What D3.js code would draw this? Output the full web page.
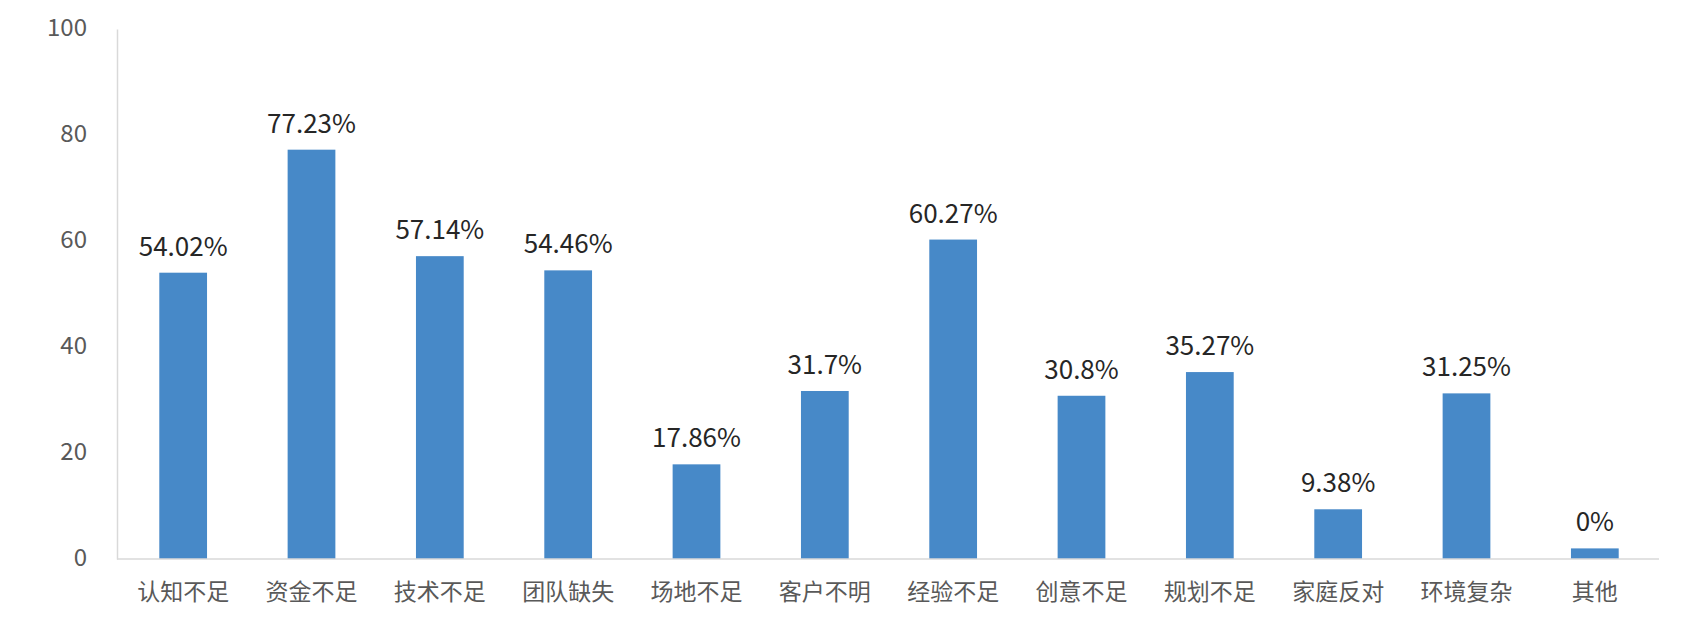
<!DOCTYPE html>
<html>
  <head>
    <meta charset="utf-8">
    <title></title>
    <script type="text/javascript" src="https://d3js.org/d3.v7.min.js"></script>
    <style media="screen">
      body { margin: 0; background: #fff; }
      text { font-family: "Noto Sans CJK SC", "Noto Sans", sans-serif; }
    </style>
  </head>
  <body>
    <div class="vis">
    </div>
    <script type="text/javascript">
      var categories = ["认知不足", "资金不足", "技术不足", "团队缺失", "场地不足", "客户不明",
                        "经验不足", "创意不足", "规划不足", "家庭反对", "环境复杂", "其他"];
      var values = [54.02, 77.23, 57.14, 54.46, 17.86, 31.7, 60.27, 30.8, 35.27, 9.38, 31.25, 0];
      var yTicks = [0, 20, 40, 60, 80, 100];

      var w = 1683;
      var h = 619;
      var plotLeft = 117, plotRight = 1659, plotTop = 29, plotBottom = 559;
      var minShown = 2; // the zero bar is still drawn as a thin stub

      var svg = d3.select('.vis')
        .append('svg')
        .attr('width', w)
        .attr('height', h);

      var xscale = d3.scaleBand()
        .domain(categories)
        .range([plotLeft + 2, plotRight])
        .paddingInner(0.628)
        .paddingOuter(0.314);

      var yscale = d3.scaleLinear()
        .domain([0, 100])
        .range([plotBottom, plotTop]);

      // bars
      svg.selectAll('rect.bar')
        .data(values)
        .enter()
        .append('rect')
        .attr('class', 'bar')
        .attr('x', function(d, i) { return xscale(categories[i]); })
        .attr('width', xscale.bandwidth())
        .attr('y', function(d) { return yscale(Math.max(d, minShown)); })
        .attr('height', function(d) { return plotBottom - yscale(Math.max(d, minShown)); })
        .attr('fill', '#4789c8');

      // value labels
      svg.selectAll('text.val')
        .data(values)
        .enter()
        .append('text')
        .attr('class', 'val')
        .attr('x', function(d, i) { return xscale(categories[i]) + xscale.bandwidth() / 2; })
        .attr('y', function(d) { return yscale(Math.max(d, minShown)) - 17; })
        .attr('text-anchor', 'middle')
        .attr('font-size', 26)
        .attr('fill', '#262626')
        .text(function(d) { return d + '%'; });

      var yAxis = d3.axisLeft(yscale)
        .tickValues(yTicks)
        .tickSize(0)
        .tickSizeOuter(0)
        .tickPadding(30);

      var gy = svg.append('g')
        .attr('transform', 'translate(' + plotLeft + ',0)')
        .call(yAxis);
      gy.select('.domain').attr('stroke', '#d9d9d9').attr('stroke-width', 1.5);
      gy.selectAll('text')
        .attr('font-size', 24)
        .attr('fill', '#595959')
        .attr('dy', '0.25em');

      var xAxis = d3.axisBottom(xscale)
        .tickSize(0)
        .tickSizeOuter(0);

      var gx = svg.append('g')
        .attr('transform', 'translate(0,' + plotBottom + ')')
        .call(xAxis);
      gx.select('.domain')
        .attr('d', 'M' + plotLeft + ',0H' + plotRight)
        .attr('stroke', '#d9d9d9')
        .attr('stroke-width', 1.5);
      gx.selectAll('text')
        .attr('font-size', 23)
        .attr('fill', '#595959')
        .attr('y', 33)
        .attr('dy', '0.35em');
    </script>
  </body>
</html>
